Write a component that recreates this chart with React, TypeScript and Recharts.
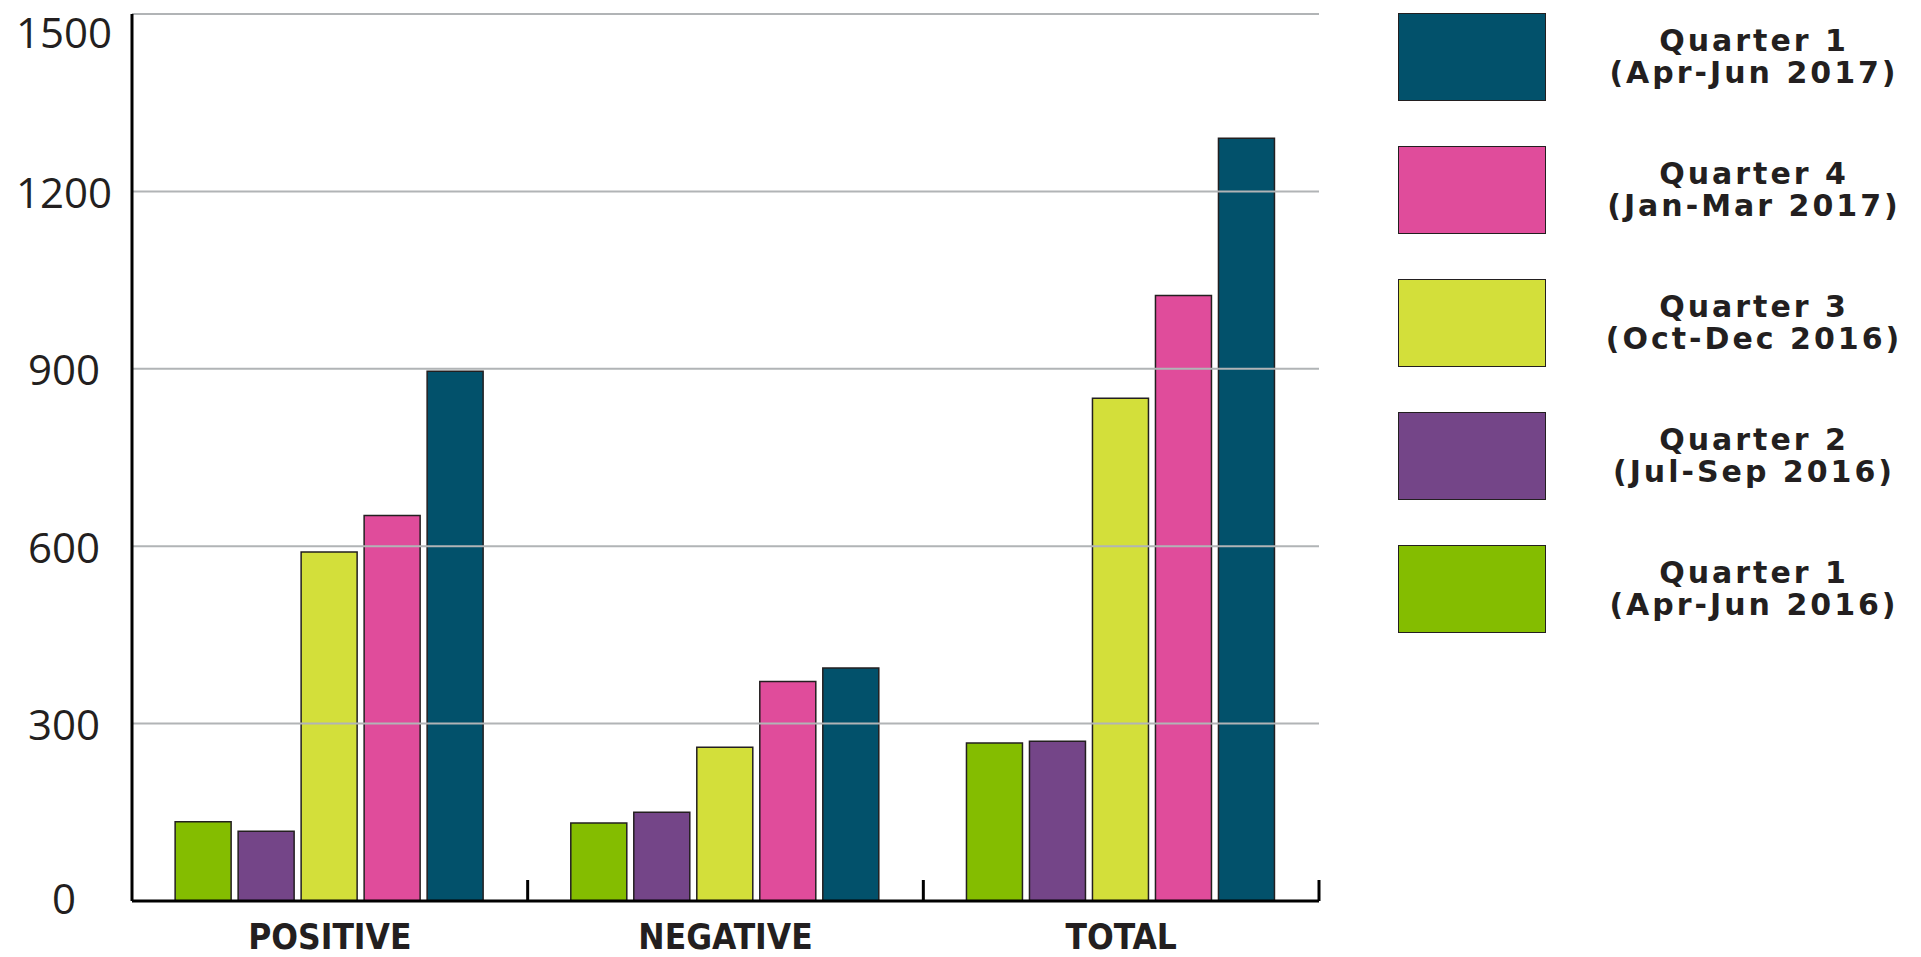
import React from 'react';
import { BarChart, Bar, XAxis, YAxis, ReferenceLine, Legend } from 'recharts';

const categories = ['POSITIVE', 'NEGATIVE', 'TOTAL'];
const q1_2016 = [134, 132, 267];
const q2_2016 = [118, 150, 270];
const q3_2016 = [590, 260, 850];
const q4_2017 = [652, 371, 1024];
const q1_2017 = [896, 394, 1290];

const seriesKeys = ['q1_2016', 'q2_2016', 'q3_2016', 'q4_2017', 'q1_2017'];
const seriesQuarters = ['Quarter 1', 'Quarter 2', 'Quarter 3', 'Quarter 4', 'Quarter 1'];
const seriesPeriods = ['(Apr-Jun 2016)', '(Jul-Sep 2016)', '(Oct-Dec 2016)', '(Jan-Mar 2017)', '(Apr-Jun 2017)'];
const seriesColors = ['#84bd00', '#744588', '#d3df3a', '#e04c9b', '#02516b'];
const yTicks = [0, 300, 600, 900, 1200, 1500];

const seriesValues = [q1_2016, q2_2016, q3_2016, q4_2017, q1_2017];

const data = categories.map((c, i) => {
  const row: any = { category: c };
  seriesKeys.forEach((k, j) => {
    row[k] = seriesValues[j][i];
  });
  return row;
});

const TEXT = '#231f20';

const YTick = (p: any) => {
  const { x, y, payload } = p;
  let dy = 0;
  if (y < 30) dy = 17;
  else if (payload.value === 0) dy = -4;
  return (
    <text
      x={x - 68}
      y={y + dy}
      textAnchor="middle"
      dominantBaseline="central"
      fontFamily="'Open Sans', sans-serif"
      fontSize={42}
      fill={TEXT}
    >
      {payload.value}
    </text>
  );
};

const XTick = (p: any) => {
  const { x, y, payload, width, visibleTicksCount } = p;
  const half =
    payload && typeof payload.offset === 'number' && payload.offset > 0
      ? payload.offset
      : width / (2 * (visibleTicksCount || categories.length));
  return (
    <g>
      <line x1={x + half} x2={x + half} y1={y - 21} y2={y} stroke="#000" strokeWidth={3} />
      <text
        x={x}
        y={y + 36}
        textAnchor="middle"
        dominantBaseline="central"
        fontFamily="'DejaVu Sans Condensed', 'DejaVu Sans', sans-serif"
        fontWeight="bold"
        fontSize={35}
        fill={TEXT}
      >
        {payload.value}
      </text>
    </g>
  );
};

const renderLegend = (props: any) => {
  const items = [...(props.payload || [])].sort(
    (a: any, b: any) => seriesKeys.indexOf(b.dataKey) - seriesKeys.indexOf(a.dataKey)
  );
  return (
    <div style={{ display: 'flex', flexDirection: 'column', gap: 45 }}>
      {items.map((item: any) => {
        const idx = seriesKeys.indexOf(item.dataKey);
        return (
          <div key={item.dataKey} style={{ display: 'flex', alignItems: 'center', height: 88 }}>
            <div
              style={{
                width: 146,
                height: 86,
                background: seriesColors[idx],
                border: `1px solid ${TEXT}`,
              }}
            />
            <div
              style={{
                marginLeft: 44,
                width: 328,
                textAlign: 'center',
                fontFamily: "'DejaVu Sans', sans-serif",
                fontWeight: 'bold',
                fontSize: 30,
                letterSpacing: 3,
                lineHeight: '32px',
                color: TEXT,
              }}
            >
              <div>{seriesQuarters[idx]}</div>
              <div>{seriesPeriods[idx]}</div>
            </div>
          </div>
        );
      })}
    </div>
  );
};

export default function App() {
  return (
    <div style={{ position: 'absolute', left: 0, top: 0, width: 1921, height: 957, background: '#fff' }}>
      <BarChart
        width={1921}
        height={957}
        data={data}
        margin={{ top: 14, right: 602, bottom: 0, left: 0 }}
        barCategoryGap="10.9%"
        barGap={7}
      >
        <XAxis
          dataKey="category"
          height={56}
          axisLine={{ stroke: '#000', strokeWidth: 3 }}
          tickLine={false}
          tickSize={0}
          tickMargin={0}
          tick={<XTick />}
          interval={0}
        />
        <YAxis
          width={132}
          domain={[0, 1500]}
          ticks={yTicks}
          axisLine={{ stroke: '#000', strokeWidth: 3 }}
          tickLine={false}
          tickSize={0}
          tickMargin={0}
          tick={<YTick />}
          interval={0}
        />
        {seriesKeys.map((k, j) => (
          <Bar
            key={k}
            dataKey={k}
            fill={seriesColors[j]}
            stroke={TEXT}
            strokeWidth={1.5}
            isAnimationActive={false}
          />
        ))}
        {yTicks
          .filter((v) => v > 0)
          .map((v) => (
            <ReferenceLine key={v} y={v} stroke="#b1b4b6" strokeWidth={2} />
          ))}
        <Legend
          layout="vertical"
          align="center"
          verticalAlign="middle"
          content={renderLegend}
          wrapperStyle={{ left: 1398, top: 13, width: 530, right: 'auto', bottom: 'auto' }}
        />
      </BarChart>
    </div>
  );
}
